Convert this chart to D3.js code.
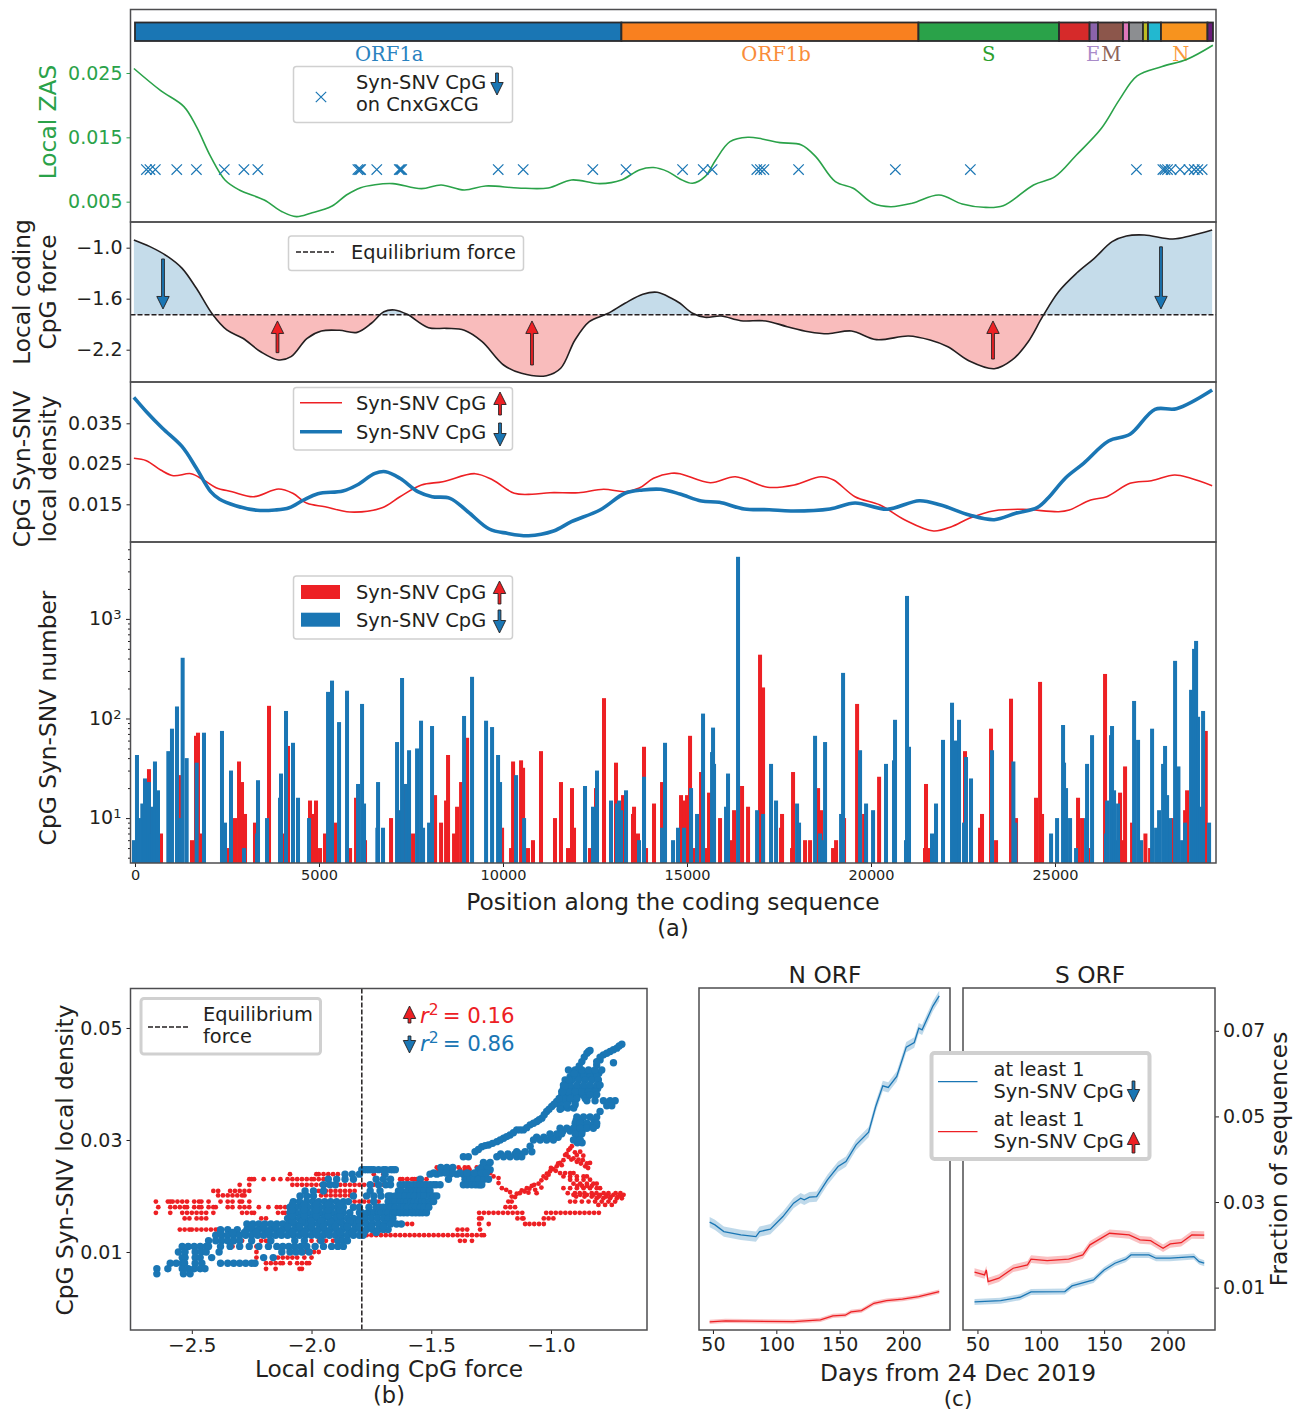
<!DOCTYPE html>
<html lang="en">
<head>
<meta charset="UTF-8">
<title>CpG Syn-SNV along the coding sequence</title>
<script src="https://d3js.org/d3.v7.min.js"></script>
<style>
    body { margin: 0; background: #fff; }
    svg text { font-family: "DejaVu Sans", sans-serif; fill: #231f20; }
    .domain { display: none; }
</style>
</head>
<body>
<svg id="chart" width="1301" height="1411"></svg>
<script>
// genome bar
const geneEdges = [0, 13218, 21290, 25110, 25940, 26168, 26848, 27011, 27391, 27527, 27880, 29144, 29293];
const geneColors = ["#1a76b4", "#f9801f", "#2aa249", "#d62a2a", "#8a63ab", "#8c564b", "#e077bb", "#8c8e91", "#bcbd22", "#22b8d0", "#f7931e", "#6a1b7a"];
const geneNames = ["ORF1a", "ORF1b", "S", "E", "M", "N"];
const genePos = [6910, 17420, 23200, 26040, 26530, 28420];
const geneNameColors = ["#2a82bf", "#f98c3a", "#2ca02c", "#a98bc9", "#8c6257", "#fa9a3c"];

// local ZAS
const zasPos = [-30, 699, 1329, 1669, 2057, 2445, 2834, 3513, 3998, 4386, 4775, 5357, 5745, 6133, 6522, 7007, 7783, 8317, 8948, 9530, 10404, 11228, 11859, 12635, 13218, 13703, 14091, 14480, 14810, 15150, 15489, 15780, 16169, 16654, 17042, 17527, 18110, 18498, 19032, 19517, 20051, 20536, 21118, 21846, 22477, 23059, 23593, 24418, 25000, 25583, 26262, 26747, 27232, 27912, 28591, 29290];
const zasVal = [.0257, .02226, .01978, .01666, .0120, .00837, .00682, .00526, .00344, .00267, .0032, .00433, .00604, .00718, .00764, .0078, .00702, .0076, .00682, .00744, .00713, .00713, .00837, .0078, .00837, .00993, .0103, .00967, .00853, .00786, .00889, .01149, .01433, .01501, .01475, .01418, .01382, .0120, .00811, .00708, .00475, .00422, .00475, .00604, .00464, .00413, .00438, .0076, .00889, .01226, .01641, .02082, .02455, .0260, .02715, .02932];
const crossPos = [310, 407, 553, 1135, 1669, 2426, 2960, 3338, 6056, 6100, 6133, 6570, 7181, 7215, 7249, 9870, 10549, 12441, 13344, 14880, 15441, 15683, 16897, 16994, 17090, 18032, 20662, 22700, 27213, 27931, 27989, 28057, 28154, 28397, 28640, 28785, 28882, 28999];
const crossLevel = 0.01;

// local coding CpG force
const forcePos = [-30, 407, 893, 1281, 1669, 2106, 2494, 2931, 3416, 3901, 4241, 4678, 5066, 5551, 6036, 6424, 6764, 7055, 7395, 7977, 8463, 8948, 9433, 10015, 10501, 11180, 11568, 11956, 12345, 12830, 13315, 13800, 14189, 14577, 14810, 15150, 15489, 15926, 16460, 17139, 17722, 18304, 18838, 19468, 20148, 21021, 21604, 22089, 22671, 23350, 23836, 24272, 24661, 25097, 25583, 26068, 26553, 26941, 27426, 28203, 28688, 29270];
const forceVal = [-.909, -.988, -1.105, -1.243, -1.478, -1.784, -1.968, -2.066, -2.224, -2.321, -2.282, -2.066, -1.98, -1.972, -1.996, -1.889, -1.753, -1.733, -1.784, -1.941, -1.949, -1.972, -2.106, -2.38, -2.478, -2.506, -2.419, -2.086, -1.87, -1.778, -1.654, -1.548, -1.525, -1.595, -1.654, -1.772, -1.819, -1.804, -1.859, -1.862, -1.929, -1.988, -2.012, -1.98, -2.082, -2.039, -2.086, -2.165, -2.333, -2.424, -2.321, -2.106, -1.812, -1.518, -1.301, -1.125, -.929, -.862, -.851, -.898, -.859, -.792];
const equilibrium = -1.79;
const forceArrowPos = [761, 3872, 10788, 23315, 27880];
const forceArrowFrom = [-1.133, -2.235, -2.38, -2.31, -0.99];
const forceArrowTo = [-1.721, -1.862, -1.862, -1.862, -1.72];

// local density
const densBluePos = [-30, 310, 747, 1281, 1669, 2057, 2300, 2737, 3319, 3804, 4192, 4581, 4969, 5648, 6036, 6521, 6813, 7201, 7686, 8074, 8560, 9045, 9627, 10112, 10694, 11374, 11859, 12635, 13315, 13800, 14286, 14810, 15392, 15878, 16557, 17236, 17819, 18886, 19565, 20438, 21312, 21894, 22671, 23350, 23933, 24515, 24806, 25292, 25777, 26456, 27038, 27717, 28300, 29270];
const densBlueVal = [.0414, .03786, .03377, .02922, .02389, .01811, .01623, .01465, .01352, .0136, .01416, .01606, .01762, .01828, .01977, .02265, .02305, .02142, .01811, .01688, .01648, .01317, .0089, .00784, .00725, .00841, .0107, .0136, .01772, .01853, .0187, .01754, .01581, .0155, .01384, .01367, .01335, .01384, .01532, .01377, .01589, .01483, .01236, .0112, .01278, .01416, .01648, .02157, .02512, .03063, .03228, .03846, .03861, .04322];
const densRedPos = [-30, 310, 698, 1038, 1523, 1863, 2203, 2640, 3222, 3901, 4289, 4678, 5163, 5842, 6716, 7201, 7783, 8366, 9239, 9724, 10307, 10792, 11277, 12053, 12733, 13315, 13703, 14091, 14577, 14810, 15635, 16314, 17188, 17916, 18644, 18984, 19565, 20245, 20924, 21700, 22186, 22671, 23350, 24127, 25097, 25388, 25970, 26407, 27038, 27620, 28251, 28688, 29270];
const densRedVal = [.02636, .02577, .02347, .02206, .02256, .0210, .0191, .01811, .01688, .01878, .01772, .01525, .01441, .0131, .01416, .01688, .01977, .02058, .02256, .0210, .01772, .01747, .01786, .01786, .0187, .01811, .0190, .02142, .02265, .02256, .02033, .02181, .0192, .01977, .02181, .0210, .01688, .01483, .01112, .00841, .00947, .01154, .01342, .01377, .01317, .01359, .01606, .01688, .02018, .02083, .02223, .02142, .0196];

// bars
const redBarPos = [380, 707, 1196, 1549, 1658, 1712, 1767, 2528, 2718, 2827, 2908, 2990, 3261, 3642, 4022, 4158, 4756, 4811, 4919, 5028, 5164, 5436, 5844, 6007, 6251, 6958, 7338, 7556, 8154, 8317, 8453, 8507, 8670, 8752, 8861, 9024, 9975, 10219, 10274, 10491, 10546, 10679, 10815, 11033, 11413, 11576, 11767, 11875, 11930, 12365, 12528, 12745, 13071, 13262, 13533, 13561, 13669, 13832, 13887, 14104, 14322, 14838, 14920, 15001, 15083, 15191, 15382, 15517, 15599, 15898, 16197, 16279, 16496, 16659, 16985, 17067, 17556, 17583, 17855, 17882, 18208, 18344, 18562, 18643, 18969, 19051, 19268, 19622, 19812, 20220, 21468, 21495, 21577, 22555, 22963, 23017, 23262, 23398, 23805, 23941, 24485, 24594, 24648, 25626, 25735, 25898, 26360, 26768, 26850, 26904, 27094, 27457, 27584, 28209, 28535, 28589, 29097];
const redBarVal = [31, 7, 27, 6, 67, 72, 7, 5, 10, 37, 23, 11, 9, 134, 7, 53, 15, 11, 15, 5, 7, 9, 5, 16, 6, 10, 22, 7, 17, 9, 15, 43, 7, 13, 23, 64, 8, 5, 37, 38, 32, 5, 6, 47, 10, 23, 5, 20, 8, 5, 20, 160, 36, 17, 11, 13, 7, 52, 5, 14, 23, 17, 15, 17, 67, 5, 29, 5, 18, 10, 6, 12, 21, 13, 437, 205, 8, 11, 5, 29, 6, 6, 20, 12, 5, 6, 10, 140, 11, 26, 5, 22, 5, 47, 8, 11, 79, 6, 158, 10, 16, 233, 11, 16, 10, 5, 280, 18, 6, 33, 9, 7, 5, 10, 12, 19, 75];
const blueBarPos = [-27, 54, 108, 199, 272, 380, 435, 489, 543, 625, 906, 1005, 1141, 1250, 1295, 1404, 1676, 1875, 2364, 2446, 2609, 2962, 3316, 3343, 3588, 3941, 3968, 4104, 4294, 4430, 4729, 5246, 5354, 5545, 5762, 6061, 6170, 6224, 6586, 6605, 6740, 7121, 7175, 7257, 7366, 7447, 7665, 7773, 7828, 7991, 8072, 8942, 9159, 9540, 9703, 9866, 9920, 10355, 10573, 12229, 12446, 12555, 12935, 13098, 13153, 13207, 13343, 13696, 13832, 14322, 14403, 14621, 14756, 14920, 15110, 15273, 15436, 15681, 15708, 15735, 16061, 16115, 16387, 16904, 17067, 17284, 17420, 17991, 18045, 18480, 18616, 18670, 18752, 19187, 19241, 19703, 19866, 20056, 20408, 20625, 20653, 20951, 20979, 21033, 21658, 21767, 21957, 22202, 22310, 22392, 22528, 22582, 22718, 23289, 23869, 23923, 24893, 25056, 25219, 25246, 25300, 25409, 25572, 25844, 25871, 26007, 26387, 26415, 26523, 26550, 26605, 26659, 26714, 27149, 27257, 27339, 27638, 27747, 27828, 27937, 27991, 28046, 28127, 28263, 28354, 28453, 28535, 28698, 28779, 28834, 28888, 28942, 29024, 29187];
const blueBarVal = [6, 43, 10, 14, 25, 23, 7, 13, 37, 19, 47, 79, 132, 10, 407, 40, 36, 72, 75, 9, 30, 5, 7, 24, 10, 16, 28, 119, 57, 16, 10, 185, 240, 92, 190, 22, 140, 14, 8, 23, 8, 58, 12, 255, 22, 48, 50, 95, 8, 9, 84, 106, 262, 95, 82, 43, 23, 27, 10, 21, 13, 30, 15, 14, 15, 12, 19, 6, 26, 8, 57, 6, 8, 8, 20, 11, 112, 46, 81, 35, 13, 28, 4200, 12, 11, 35, 15, 14, 9, 67, 7, 6, 58, 11, 287, 48, 14, 12, 35, 38, 97, 6, 1700, 52, 7, 14, 61, 144, 60, 97, 9, 41, 25, 48, 37, 9, 7, 10, 86, 36, 20, 10, 5, 10, 35, 68, 7, 15, 68, 84, 19, 6, 14, 150, 61, 6, 79, 8, 12, 35, 53, 17, 10, 379, 33, 6, 9, 194, 500, 601, 104, 13, 119, 9];

// panel (b): density levels are quantised, so points are kept per level
const redLevels = [.0239, .023, .022, .0209, .0201, .019, .018, .017, .016, .015, .014, .013, .012, .011, .010, .009, .008, .007, .0196, .0184, .0202, .0214, .0222, .0229, .0235, .0241, .0247, .0251, .0218, .0205, .0199];
const redForces = [
    [-2.09, -1.98, -1.97, -1.95, -1.93, -1.91, -1.89, -1.74, -1.7],
    [-2.26, -2.25, -2.24, -2.2, -2.16, -2.13, -2.1, -2.08, -2.06, -2.04, -2.02, -2, -1.99, -1.97, -1.95, -1.62, -1.6, -1.58, -1.56, -1.54, -1.52, -1.63, -1.6, -1.57],
    [-2.3, -2.26, -2.08, -2.06, -2.04, -2.02, -2, -1.98, -1.96, -1.94, -1.88, -1.86, -1.84, -1.82, -1.8, -1.78, -1.76, -1.74, -1.72, -1.7, -1.68],
    [-2.41, -2.39, -2.34, -2.32, -2.3, -2.28, -2.26, -1.99, -1.97, -1.94, -1.92, -1.9, -1.88, -1.86, -1.84, -1.82],
    [-2.39, -2.37, -2.35, -2.33, -2.31, -2.29, -2.28, -1.96, -1.94, -1.92, -1.9, -1.88, -1.86, -1.84, -1.83],
    [-2.65, -2.6, -2.59, -2.58, -2.56, -2.54, -2.52, -2.49, -2.47, -2.46, -2.43, -2.38, -2.35, -2.33, -2.3, -2.29, -2.26, -1.84, -1.82, -1.8, -1.78, -1.76, -1.74, -1.72, -1.178, -1.164, -.92, -.899, -.871, -.843, -.816, -.788, -.76, -.732],
    [-2.64, -2.59, -2.57, -2.55, -2.53, -2.52, -2.49, -2.47, -2.46, -2.43, -2.41, -2.4, -2.35, -2.33, -2.3, -2.28, -2.26, -2.22, -2.18, -2.145, -2.13, -2.11, -2.09, -1.19, -1.17, -1.15],
    [-2.65, -2.59, -2.54, -2.52, -2.5, -2.48, -2.46, -2.44, -2.41, -2.29, -2.27, -2.25, -2.24, -2.14, -2.12, -2.11, -1.3, -1.28, -1.26, -1.24, -1.22, -1.2, -1.18, -1.16, -1.14, -1.12, -1.02, -1, -.98, -.96, -.94, -.92, -.9, -.88, -.86, -.84, -.82, -.8],
    [-2.53, -2.51, -2.48, -2.46, -2.44, -2.21, -2.19, -1.3, -1.29, -1.14, -1.12, -1.115, -1.03, -1.01, -.99],
    [-1.62, -1.6, -1.58, -1.3, -1.26, -1.108, -1.09, -1.07, -1.05, -1.03],
    [-2.55, -2.53, -2.51, -2.5, -2.48, -2.46, -2.44, -2.42, -2.4, -2.39, -1.39, -1.37, -1.35, -1.296],
    [-1.77, -1.75, -1.73, -1.71, -1.69, -1.67, -1.65, -1.63, -1.61, -1.59, -1.57, -1.55, -1.53, -1.51, -1.49, -1.47, -1.45, -1.43, -1.41, -1.39, -1.37, -1.35, -1.33, -1.31, -1.29, -1.28],
    [-2.29, -2.21, -2.19, -2.18, -2.07, -2.03, -2, -1.97, -1.94, -1.91, -1.38, -1.36, -1.33],
    [-2.33, -2.23],
    [-2.23, -2.05, -2.03, -2.01, -1.99, -1.97],
    [-2.23, -2.16, -2.14, -2.12, -2.1, -2.08, -2.06, -2.03, -2],
    [-2.19, -2.17, -2.15, -2.13, -2.12, -2.09, -2.06, -2.04, -2.02, -2.01],
    [-2.19, -2.15, -2.05, -2.04],
    [-.809, -.781, -.753, -.725, -.704],
    [-.802, -.774, -.746],
    [-.906, -.878, -.85, -.823, -.795, -.767, -.739, -.711, -.697],
    [-.892, -.864, -.837, -.809, -.948, -.92, -.795],
    [-.906, -.878, -.85, -.823, -.809],
    [-.92, -.892, -.864, -.837],
    [-.948, -.92, -.892, -.864, -.85],
    [-.962, -.941, -.92, -.906, -1.275, -1.254],
    [-1.47, -1.44, -1.41, -1.38, -1.36, -1.34],
    [-1.477, -1.386, -1.36, -1.345, -1.31],
    [-.89, -.87, -.85, -.83],
    [-.93, -.9, -.88, -.86, -.83, -.81, -.78, -.76, -.73, -.71],
    [-.895, -.86, -.83, -.8, -.77, -.75, -.72]
];
const redTailForce = [-1.254, -1.24, -1.219, -1.219, -1.205, -1.187, -1.171, -1.164, -1.143, -1.122, -1.101, -1.08, -1.066, -1.052, -1.094, -1.031, -1.017, -1.004, -.99, -.976, -.962, -.948, -.941, -.927, -.913, -.927, -.906, -.892, -.878, -.867, -.892, -.857, -.837, -1.15, -1.13, -1.11, -1.09, -1.07, -1.06, -1.04, -1.04, -1.02, -1.01, -1, -.98, -.97, -.955, -.935, -.92, -.915, -.9, -.885, -.875, -.865, -.845, -.85];
const redTailDens = [.0243, .0235, .0232, .0223, .0214, .0211, .0207, .0199, .0204, .021, .0214, .0218, .0211, .0222, .0206, .0235, .024, .0244, .0248, .0253, .0259, .0264, .0273, .0282, .0289, .027, .0267, .0273, .0279, .0264, .0261, .0253, .0259, .0198, .0205, .0208, .0213, .022, .0205, .0215, .0228, .0232, .0238, .025, .0245, .0258, .0255, .0275, .0285, .0265, .0278, .0265, .0258, .0272, .025, .0258];

const blueLevels = [.0247, .0239, .023, .022, .0209, .02, .019, .018, .017, .016, .015, .014, .013, .012, .011, .010, .009, .008, .007, .0061, .0155, .0145, .0135, .0165, .0175, .0185, .0251, .0241, .0419, .0392, .038, .0368, .0357, .0335, .0326, .0316, .0305, .0295, .0275];
const blueForces = [
    [-1.79, -1.78, -1.77, -1.76, -1.75, -1.74, -1.72, -1.7, -1.69, -1.67, -1.66, -1.65, -1.449, -1.42, -1.303, -1.275, -1.254],
    [-1.86, -1.83, -1.8, -1.693, -1.505, -1.477, -1.421, -1.393, -1.366, -1.338, -1.303, -1.282],
    [-1.93, -1.895, -1.86, -1.825, -1.73, -1.7, -1.67, -1.546, -1.428, -1.359, -1.35, -1.338, -1.32, -1.303, -1.28, -1.261],
    [-1.95, -1.923, -1.9, -1.755, -1.72, -1.69, -1.67, -1.63, -1.615, -1.602, -1.59, -1.574, -1.56, -1.546, -1.53, -1.519, -1.505, -1.491, -1.48, -1.463, -1.366, -1.35, -1.331, -1.315, -1.303, -1.295, -1.289],
    [-2.027, -1.992, -1.95, -1.755, -1.714, -1.637, -1.625, -1.6, -1.58, -1.57, -1.56, -1.546, -1.53, -1.51, -1.505],
    [-2.048, -2.02, -1.992, -1.825, -1.77, -1.74, -1.71, -1.68, -1.67, -1.65, -1.63, -1.61, -1.588, -1.57, -1.546, -1.53, -1.505, -1.49, -1.477],
    [-2.076, -2.05, -2.02, -1.995, -1.97, -1.945, -1.92, -1.895, -1.867, -1.846, -1.74, -1.68, -1.66, -1.65, -1.63, -1.615, -1.6, -1.585, -1.57, -1.555, -1.54, -1.525, -1.51, -1.505, -1.49],
    [-2.09, -2.065, -2.04, -2.015, -1.99, -1.965, -1.94, -1.915, -1.89, -1.867, -1.825, -1.8, -1.76, -1.73, -1.715, -1.7, -1.685, -1.67, -1.65, -1.63, -1.615, -1.6, -1.58, -1.565, -1.545, -1.53, -1.51],
    [-2.09, -2.065, -2.04, -2.015, -1.99, -1.965, -1.94, -1.915, -1.89, -1.867, -1.84, -1.8, -1.79, -1.765, -1.75, -1.74, -1.72, -1.71, -1.69, -1.68, -1.66, -1.65, -1.63, -1.615, -1.6, -1.58, -1.565, -1.55, -1.537, -1.52],
    [-2.1, -2.075, -2.05, -2.025, -2, -1.975, -1.95, -1.925, -1.9, -1.875, -1.85, -1.825, -1.8, -1.775, -1.75, -1.725, -1.7, -1.68, -1.66],
    [-2.27, -2.245, -2.22, -2.195, -2.17, -2.145, -2.12, -2.095, -2.07, -2.045, -2.02, -1.995, -1.97, -1.945, -1.92, -1.895, -1.87, -1.845, -1.82, -1.795, -1.77, -1.745, -1.72, -1.695, -1.67, -1.645, -1.625],
    [-2.38, -2.35, -2.31, -2.27, -2.245, -2.22, -2.195, -2.17, -2.145, -2.12, -2.095, -2.07, -2.045, -2.02, -1.995, -1.97, -1.945, -1.92, -1.895, -1.87, -1.845, -1.82, -1.795, -1.77, -1.745, -1.72, -1.7, -1.68],
    [-2.4, -2.375, -2.35, -2.325, -2.3, -2.275, -2.25, -2.225, -2.2, -2.175, -2.15, -2.125, -2.1, -2.075, -2.05, -2.025, -2, -1.975, -1.95, -1.925, -1.9, -1.875, -1.85, -1.825, -1.8, -1.785],
    [-2.43, -2.4, -2.375, -2.35, -2.325, -2.3, -2.25, -2.17, -2.07, -2.03, -1.96, -1.89, -1.87, -1.85],
    [-2.54, -2.515, -2.49, -2.465, -2.44, -2.43, -2.38, -2.34, -2.3, -2.26, -2.22, -2.18, -2.145, -2.12, -2.095, -2.07, -2.045, -2.02, -1.985, -1.95, -1.916, -1.89, -1.867],
    [-2.556, -2.528, -2.486, -2.46, -2.44, -2.386, -2.124, -2.09, -2.065, -2.04, -2.01],
    [-2.54, -2.528, -2.486, -2.465, -2.417, -2.2, -2.16],
    [-2.59, -2.565, -2.54, -2.53, -2.486, -2.458, -2.38, -2.35, -2.325, -2.3, -2.275, -2.25, -2.236],
    [-2.646, -2.6, -2.54, -2.515, -2.49, -2.465, -2.445],
    [-2.646, -2.535, -2.507],
    [-2.08, -2.04, -2, -1.96, -1.92, -1.88, -1.84, -1.8],
    [-2.25, -2.2, -2.15, -2.1, -2.05, -2, -1.95, -1.9, -1.85, -1.8, -1.75, -1.7],
    [-2.38, -2.33, -2.28, -2.23, -2.18, -2.13, -2.08, -2.03, -1.98, -1.93, -1.88, -1.83, -1.78, -1.73],
    [-2.08, -2.03, -1.98, -1.93, -1.88],
    [-2.08, -2.03, -1.98, -1.93, -1.88],
    [-2.08, -2.03, -1.98, -1.93, -1.88],
    [-1.46, -1.435, -1.41, -1.29, -1.265],
    [-1.49, -1.46, -1.44, -1.41, -1.38, -1.35, -1.32, -1.29, -1.27],
    [-.9, -.875, -.85, -.825, -.8],
    [-.93, -.905, -.88, -.855, -.83, -.805],
    [-.94, -.915, -.89, -.865, -.84, -.815],
    [-.96, -.93, -.9],
    [-.955, -.93, -.905],
    [-.895, -.875, -.82],
    [-.89, -.87, -.83, -.81],
    [-.95, -.92, -.89, -.87],
    [-1.06, -1.03, -1, -.97, -.89],
    [-.89, -.87],
    [-1.21, -1.18, -1.15, -1.13]
];
const blueTailForce = [-1.317, -1.289, -1.261, -1.226, -1.198, -1.171, -1.143, -1.115, -1.087, -1.059, -1.038, -1.018, -.997, -.976, -.955, -.948, -.934, -.913, -.892, -.871, -.85, -.837, -.781, -.753, -.725, -.704, -.739, -.809, -.795, -.927, -.899, -.871, -.843, -.816, -.788, -.92, -.892, -.864, -.837, -.809, -.941, -.913, -.885, -.857, -.83, -.802, -.948, -.92, -.892, -.864, -.837, -.809, -.795, -.955, -.927, -.899, -.871, -.843, -.816, -.948, -.92, -.892, -.857, -.962, -.934, -.899, -.962, -.85, -.816, -.781, -.753, -.732, -.837, -.809, -.767, -.746, -.795, -.892, -.864, -.837, -.809, -.899, -.878, -.809, -.85, -.962, -.934, -.906, -.878, -.85, -.823, -1.004, -.976, -.955, -.899, -.871, -1.073, -1.045, -1.018, -.99, -.906, -.878, -1.087, -1.143, -1.108, -1.08, -1.226, -1.198, -1.171, -1.143, -1.122, -1.366, -1.345, -1.282, -1.254, -1.303, -1.275, -1.244, -1.212, -1.185, -1.157, -1.129, -1.101, -1.073, -1.049, -1.028, -1.008, -.987, -.966, -.952, -.941, -.924, -.903, -.882, -.861, -.843, -.767, -.739, -.715, -.795, -.809];
const blueTailDens = [.0279, .0288, .0291, .0297, .0303, .0309, .0318, .0318, .0327, .0333, .0339, .0351, .036, .0369, .038, .0392, .0401, .0413, .0425, .044, .0455, .046, .0452, .0458, .0464, .0471, .0438, .0434, .0443, .0425, .0425, .0425, .0425, .0425, .0425, .0413, .0413, .0413, .0413, .0413, .0407, .0407, .0407, .0407, .0407, .0407, .0398, .0398, .0398, .0398, .0398, .0398, .0398, .0386, .0386, .0386, .0386, .0386, .0386, .0374, .0374, .0374, .0374, .0363, .0363, .0363, .0355, .037, .037, .037, .037, .037, .0381, .0381, .0361, .0361, .0351, .0341, .0341, .0341, .0341, .033, .033, .033, .033, .0321, .0321, .0321, .0321, .0321, .0321, .0311, .0311, .0311, .0311, .0311, .03, .03, .03, .03, .03, .03, .0289, .0279, .0279, .0279, .027, .027, .027, .027, .027, .027, .027, .026, .026, .0283, .029, .0294, .03, .0306, .0313, .0318, .0322, .033, .0336, .0345, .0355, .0364, .0374, .0386, .0396, .0407, .0419, .0432, .0448, .0458, .0455, .0461, .0468, .0448, .044];

// panel (c)
const nBlueDay = [47.4, 51.6, 58.6, 72, 83.9, 86.8, 95.3, 105.2, 113.6, 119.2, 122, 126.2, 131.8, 140.3, 148.7, 154.9, 162.9, 172.8, 178.4, 184, 188.3, 195, 202.5, 208.8, 212.4, 215, 223.5, 228.5];
const nBlueVal = [.02529, .02466, .0231, .02232, .02192, .0231, .02365, .0266, .02973, .0309, .0305, .03113, .03127, .03518, .03828, .03946, .04336, .04632, .05231, .05715, .05676, .05934, .0662, .06727, .07064, .07024, .07578, .07818];
const nRedDay = [47.4, 60, 113.6, 134.8, 144.6, 154.4, 158.9, 167.2, 177, 186.9, 199.5, 212.3, 228.5];
const nRedVal = [.00198, .00222, .00205, .00245, .00338, .00355, .00432, .00462, .00635, .00696, .00729, .0079, .00906];
const sRedDay = [47.7, 55.6, 57, 58.4, 66.9, 78.2, 89.5, 92.3, 105, 122, 133.2, 138.8, 154.3, 169.7, 178.3, 186.7, 189.6, 196.5, 202.2, 210.8, 219.2, 229];
const sRedVal = [.0136, .01297, .01413, .0114, .0122, .01453, .0153, .01664, .0163, .01664, .01764, .02, .0227, .02232, .02115, .02099, .02043, .0192, .0202, .0205, .0223, .02225];
const sBlueDay = [47.7, 68.3, 83.5, 92.3, 119, 124.6, 141.6, 150, 158.5, 167, 171.2, 185.3, 191, 202, 220.8, 225, 229];
const sBlueVal = [.00666, .00696, .00775, .009, .00907, .0104, .0118, .01414, .0157, .01664, .01764, .01764, .01687, .01687, .01725, .01608, .0157];
const nBlueBand = 0.0012, nRedBand = 0.0005, sRedBand = 0.0009, sBlueBand = 0.0007;

const zasTicks = [0.025, 0.015, 0.005];
const forceTicks = [-1.0, -1.6, -2.2];
const densTicks = [0.035, 0.025, 0.015];
const countTicks = [10, 100, 1000];
const countMinor = [4, 5, 6, 7, 8, 9, 20, 30, 40, 50, 60, 70, 80, 90, 200, 300, 400, 500, 600, 700, 800, 900, 2000, 3000, 4000, 5000];
const posTicks = [0, 5000, 10000, 15000, 20000, 25000];
const bForceTicks = [-2.5, -2.0, -1.5, -1.0];
const bDensTicks = [0.05, 0.03, 0.01];
const dayTicks = [50, 100, 150, 200];
const fracTicks = [0.07, 0.05, 0.03, 0.01];

const RED = "#ed2024", BLUE = "#1a76b4", GREEN = "#2aa249", INK = "#231f20", FRAME = "#4d4d4f", LEGEND = "#d0d0d0";

const svg = d3.select("#chart");
const defs = svg.append("defs");

// Panels share the x range, each one has its own y scale
const L = 130.5, R = 1216;
const x = d3.scaleLinear().domain([-122, 29375]).range([L, R]);
const yZas = d3.scaleLinear().domain([0.00184, 0.03487]).range([222, 9.5]);
const yForce = d3.scaleLinear().domain([-2.58, -0.698]).range([382, 222]);
const yDens = d3.scaleLinear().domain([0.00569, 0.0452]).range([542, 382]);
const yCount = d3.scaleLog().domain([3.54, 5916]).range([863, 542]);

function frame(x0, y0, x1, y1) {
    svg.append("rect").attr("x", x0).attr("y", y0).attr("width", x1 - x0).attr("height", y1 - y0)
        .attr("fill", "none").attr("stroke", FRAME).attr("stroke-width", 1.5);
}

function clip(id, x0, y0, x1, y1) {
    defs.append("clipPath").attr("id", id).append("rect")
        .attr("x", x0).attr("y", y0).attr("width", x1 - x0).attr("height", y1 - y0);
}

function styleAxis(g, size, color) {
    g.selectAll("text").style("font-size", size + "px").style("fill", color || INK);
    g.selectAll("line").attr("stroke", color || INK).attr("stroke-width", 1);
}

function label(text, px, py, size, opts) {
    opts = opts || {};
    const t = svg.append("text").attr("text-anchor", opts.anchor || "middle").style("font-size", size + "px").text(text);
    if (opts.color) t.style("fill", opts.color);
    if (opts.family) t.style("font-family", opts.family);
    if (opts.rotate) t.attr("transform", `translate(${px},${py}) rotate(-90)`);
    else t.attr("x", px).attr("y", py);
    return t;
}

// FancyArrow style glyph, from tail to head in pixels
function arrow(px, y0, y1, color) {
    const dir = y1 > y0 ? 1 : -1, head = 12.5, half = 6.2, shaft = 1.4;
    const pts = [[px - shaft, y0], [px + shaft, y0], [px + shaft, y1 - dir * head], [px + half, y1 - dir * head],
        [px, y1], [px - half, y1 - dir * head], [px - shaft, y1 - dir * head]];
    svg.append("polygon").attr("points", pts.map(p => p.join(",")).join(" "))
        .attr("fill", color).attr("stroke", INK).attr("stroke-width", 0.9).attr("stroke-linejoin", "miter");
}

function legendBox(x0, y0, x1, y1, width) {
    svg.append("rect").attr("x", x0).attr("y", y0).attr("width", x1 - x0).attr("height", y1 - y0)
        .attr("rx", 3).attr("fill", "#fff").attr("stroke", LEGEND).attr("stroke-width", width);
}

const smooth = d3.curveCatmullRom.alpha(0.5);
const LEGEND_FONT = 19.4, TICK_FONT = 19, AXIS_FONT = 23.3, SUB_FONT = 22.5, DASH = "5,2";
const CROSS = "M-5.2,-5.2L5.2,5.2M-5.2,5.2L5.2,-5.2";

// Panel 1: genome bar, ZAS
geneColors.forEach((c, i) => {
    svg.append("rect").attr("x", x(geneEdges[i])).attr("y", 22.5)
        .attr("width", x(geneEdges[i + 1]) - x(geneEdges[i])).attr("height", 18.5)
        .attr("fill", c).attr("stroke", "#2b2b2d").attr("stroke-width", 1.8);
});
geneNames.forEach((name, i) => {
    label(name, x(genePos[i]), 61, 19.6, { color: geneNameColors[i], family: "'DejaVu Serif', serif" });
});

svg.append("path").datum(zasPos.map((p, i) => [p, zasVal[i]]))
    .attr("fill", "none").attr("stroke", GREEN).attr("stroke-width", 1.6)
    .attr("d", d3.line().x(d => x(d[0])).y(d => yZas(d[1])).curve(smooth));

svg.append("g").selectAll("path").data(crossPos).join("path")
    .attr("transform", d => `translate(${x(d)},${yZas(crossLevel)})`)
    .attr("d", CROSS)
    .attr("fill", "none").attr("stroke", BLUE).attr("stroke-width", 1.2);

svg.append("g").attr("transform", `translate(${L},0)`)
    .call(d3.axisLeft(yZas).tickValues(zasTicks).tickFormat(d3.format(".3f")).tickSize(4).tickPadding(4))
    .call(styleAxis, TICK_FONT, GREEN);
label("Local ZAS", 56, 122, AXIS_FONT, { rotate: true, color: GREEN });
frame(L, 9.5, R, 222);

legendBox(293.5, 66.5, 512.5, 122.5, 1.5);
svg.append("path").attr("transform", "translate(321,97)").attr("d", CROSS)
    .attr("fill", "none").attr("stroke", BLUE).attr("stroke-width", 1.2);
label("Syn-SNV CpG", 356, 89, LEGEND_FONT, { anchor: "start" });
label("on CnxGxCG", 356, 111, LEGEND_FONT, { anchor: "start" });
arrow(497, 73, 95, BLUE);

// Panel 2: force
clip("clipAbove", L, 222, R, yForce(equilibrium));
clip("clipBelow", L, yForce(equilibrium), R, 382);
const forceData = forcePos.map((p, i) => [p, forceVal[i]]);
const forceArea = d3.area().x(d => x(d[0])).y0(yForce(equilibrium)).y1(d => yForce(d[1])).curve(smooth);
svg.append("path").datum(forceData).attr("d", forceArea).attr("fill", "#c5dcea").attr("clip-path", "url(#clipAbove)");
svg.append("path").datum(forceData).attr("d", forceArea).attr("fill", "#f9bcbc").attr("clip-path", "url(#clipBelow)");
svg.append("path").datum(forceData).attr("fill", "none").attr("stroke", INK).attr("stroke-width", 1.6)
    .attr("d", d3.line().x(d => x(d[0])).y(d => yForce(d[1])).curve(smooth));
svg.append("line").attr("x1", L).attr("x2", R).attr("y1", yForce(equilibrium)).attr("y2", yForce(equilibrium))
    .attr("stroke", INK).attr("stroke-width", 1.5).attr("stroke-dasharray", DASH);
forceArrowPos.forEach((p, i) => {
    arrow(x(p), yForce(forceArrowFrom[i]), yForce(forceArrowTo[i]), forceArrowTo[i] < forceArrowFrom[i] ? BLUE : RED);
});
svg.append("g").attr("transform", `translate(${L},0)`)
    .call(d3.axisLeft(yForce).tickValues(forceTicks).tickFormat(d3.format(".1f")).tickSize(4).tickPadding(4))
    .call(styleAxis, TICK_FONT);
label("Local coding", 30, 292, AXIS_FONT, { rotate: true });
label("CpG force", 56, 292, AXIS_FONT, { rotate: true });
frame(L, 222, R, 382);

legendBox(288.5, 236, 523.5, 270.5, 1.5);
svg.append("line").attr("x1", 296).attr("x2", 334).attr("y1", 252).attr("y2", 252)
    .attr("stroke", INK).attr("stroke-width", 1.5).attr("stroke-dasharray", DASH);
label("Equilibrium force", 351, 259, LEGEND_FONT, { anchor: "start" });

// Panel 3: density
const densLine = d3.line().x(d => x(d[0])).y(d => yDens(d[1])).curve(smooth);
svg.append("path").datum(densRedPos.map((p, i) => [p, densRedVal[i]]))
    .attr("fill", "none").attr("stroke", RED).attr("stroke-width", 1.6).attr("d", densLine);
svg.append("path").datum(densBluePos.map((p, i) => [p, densBlueVal[i]]))
    .attr("fill", "none").attr("stroke", BLUE).attr("stroke-width", 3.6).attr("d", densLine);
svg.append("g").attr("transform", `translate(${L},0)`)
    .call(d3.axisLeft(yDens).tickValues(densTicks).tickFormat(d3.format(".3f")).tickSize(4).tickPadding(4))
    .call(styleAxis, TICK_FONT);
label("CpG Syn-SNV", 30, 469, AXIS_FONT, { rotate: true });
label("local density", 56, 469, AXIS_FONT, { rotate: true });
frame(L, 382, R, 542);

legendBox(293.5, 387.5, 512.5, 450, 1.5);
svg.append("line").attr("x1", 300).attr("x2", 342).attr("y1", 402.7).attr("y2", 402.7).attr("stroke", RED).attr("stroke-width", 1.6);
svg.append("line").attr("x1", 300).attr("x2", 342).attr("y1", 431.7).attr("y2", 431.7).attr("stroke", BLUE).attr("stroke-width", 3.6);
label("Syn-SNV CpG", 356, 410, LEGEND_FONT, { anchor: "start" });
label("Syn-SNV CpG", 356, 439, LEGEND_FONT, { anchor: "start" });
arrow(500, 415, 392, RED);
arrow(500, 423, 446, BLUE);

// Panel 4: counts
clip("clipCount", L, 542, R, 863);
const barWidth = x(109) - x(0);
const barsG = svg.append("g").attr("clip-path", "url(#clipCount)");
barsG.selectAll("rect.red").data(redBarPos).join("rect").attr("class", "red")
    .attr("x", d => x(d) - barWidth / 2).attr("width", barWidth)
    .attr("y", (d, i) => yCount(redBarVal[i])).attr("height", (d, i) => 863 - yCount(redBarVal[i]))
    .attr("fill", RED);
barsG.selectAll("rect.blue").data(blueBarPos).join("rect").attr("class", "blue")
    .attr("x", d => x(d) - barWidth / 2).attr("width", barWidth)
    .attr("y", (d, i) => yCount(blueBarVal[i])).attr("height", (d, i) => 863 - yCount(blueBarVal[i]))
    .attr("fill", BLUE);

svg.append("g").attr("transform", `translate(${L},0)`)
    .call(d3.axisLeft(yCount).tickValues(countMinor).tickFormat("").tickSize(2.5))
    .call(styleAxis, TICK_FONT);
const countAxis = svg.append("g").attr("transform", `translate(${L},0)`)
    .call(d3.axisLeft(yCount).tickValues(countTicks).tickFormat("").tickSize(4.5).tickPadding(4));
styleAxis(countAxis, TICK_FONT);
countAxis.selectAll(".tick").each(function (d) {
    const t = d3.select(this).select("text").attr("x", -9).attr("dy", "0.3em");
    t.append("tspan").text("10");
    t.append("tspan").attr("dy", "-0.45em").style("font-size", "13px").text(Math.round(Math.log10(d)));
});
svg.append("g").attr("transform", "translate(0,863)")
    .call(d3.axisBottom(x).tickValues(posTicks).tickFormat(d3.format("d")).tickSize(4).tickPadding(3))
    .call(styleAxis, 14.5);
label("CpG Syn-SNV number", 56, 718, AXIS_FONT, { rotate: true });
label("Position along the coding sequence", 673, 910, AXIS_FONT);
label("(a)", 673, 936, SUB_FONT);
frame(L, 542, R, 863);

legendBox(293.5, 576, 512.5, 639, 1.5);
svg.append("rect").attr("x", 301).attr("y", 585).attr("width", 39).attr("height", 14).attr("fill", RED);
svg.append("rect").attr("x", 301).attr("y", 612.7).attr("width", 39).attr("height", 14).attr("fill", BLUE);
label("Syn-SNV CpG", 356, 599, LEGEND_FONT, { anchor: "start" });
label("Syn-SNV CpG", 356, 627, LEGEND_FONT, { anchor: "start" });
arrow(499.5, 604, 581, RED);
arrow(499.5, 610, 633, BLUE);

// Panel (b)
const xB = d3.scaleLinear().domain([-2.756, -0.599]).range([130.5, 647]);
const yB = d3.scaleLinear().domain([-0.00393, 0.05705]).range([1330, 988.5]);
const redPoints = redLevels.flatMap((lv, i) => redForces[i].map(f => [f, lv]))
    .concat(redTailForce.map((f, i) => [f, redTailDens[i]]));
const bluePoints = blueLevels.flatMap((lv, i) => blueForces[i].map(f => [f, lv]))
    .concat(blueTailForce.map((f, i) => [f, blueTailDens[i]]));
svg.append("g").selectAll("circle").data(redPoints).join("circle")
    .attr("cx", d => xB(d[0])).attr("cy", d => yB(d[1])).attr("r", 2.4).attr("fill", RED);
svg.append("g").selectAll("circle").data(bluePoints).join("circle")
    .attr("cx", d => xB(d[0])).attr("cy", d => yB(d[1])).attr("r", 3.7).attr("fill", BLUE);
svg.append("line").attr("x1", xB(equilibrium)).attr("x2", xB(equilibrium)).attr("y1", 988.5).attr("y2", 1330)
    .attr("stroke", INK).attr("stroke-width", 1.5).attr("stroke-dasharray", DASH);
svg.append("g").attr("transform", "translate(0,1330)")
    .call(d3.axisBottom(xB).tickValues(bForceTicks).tickFormat(d3.format(".1f")).tickSize(4).tickPadding(4))
    .call(styleAxis, 20);
svg.append("g").attr("transform", "translate(130.5,0)")
    .call(d3.axisLeft(yB).tickValues(bDensTicks).tickFormat(d3.format(".2f")).tickSize(4).tickPadding(4))
    .call(styleAxis, TICK_FONT);
label("CpG Syn-SNV local density", 73, 1160, AXIS_FONT, { rotate: true });
label("Local coding CpG force", 389, 1377, AXIS_FONT);
label("(b)", 389, 1403, SUB_FONT);
frame(130.5, 988.5, 647, 1330);

legendBox(141, 998.5, 320.5, 1054, 3);
svg.append("line").attr("x1", 148).attr("x2", 188).attr("y1", 1027).attr("y2", 1027)
    .attr("stroke", INK).attr("stroke-width", 1.5).attr("stroke-dasharray", DASH);
label("Equilibrium", 203, 1021, LEGEND_FONT, { anchor: "start" });
label("force", 203, 1043, LEGEND_FONT, { anchor: "start" });

function rSquared(yBase, color, value) {
    const t = svg.append("text").attr("x", 420).attr("y", yBase).style("font-size", "21.3px").style("fill", color);
    t.append("tspan").style("font-style", "italic").style("fill", color).text("r");
    t.append("tspan").attr("dy", -8).style("font-size", "15.5px").style("fill", color).text("2");
    t.append("tspan").attr("dy", 8).attr("dx", 4).style("fill", color).text("= " + value);
}
arrow(409.5, 1023, 1006, RED);
arrow(409.5, 1036, 1053, BLUE);
rSquared(1023, RED, "0.16");
rSquared(1051, BLUE, "0.86");

// Panel (c)
const yFrac = d3.scaleLinear().domain([0.0001, 0.08]).range([1330, 988]);
const xN = d3.scaleLinear().domain([39, 237]).range([699, 950]);
const xS = d3.scaleLinear().domain([38.6, 237.5]).range([963, 1215]);
clip("clipN", 699, 988, 950, 1330);
clip("clipS", 963, 988, 1215, 1330);

function trend(xs, days, vals, band, color, clipId) {
    const data = days.map((d, i) => [d, vals[i]]);
    const g = svg.append("g").attr("clip-path", `url(#${clipId})`);
    g.append("path").datum(data).attr("fill", color).attr("fill-opacity", 0.28)
        .attr("d", d3.area().x(d => xs(d[0])).y0(d => yFrac(d[1] - band)).y1(d => yFrac(d[1] + band)));
    g.append("path").datum(data).attr("fill", "none").attr("stroke", color).attr("stroke-width", 1.3)
        .attr("d", d3.line().x(d => xs(d[0])).y(d => yFrac(d[1])));
}
trend(xN, nBlueDay, nBlueVal, nBlueBand, BLUE, "clipN");
trend(xN, nRedDay, nRedVal, nRedBand, RED, "clipN");
trend(xS, sRedDay, sRedVal, sRedBand, RED, "clipS");
trend(xS, sBlueDay, sBlueVal, sBlueBand, BLUE, "clipS");

svg.append("g").attr("transform", "translate(0,1330)")
    .call(d3.axisBottom(xN).tickValues(dayTicks).tickSize(4).tickPadding(4)).call(styleAxis, TICK_FONT);
svg.append("g").attr("transform", "translate(0,1330)")
    .call(d3.axisBottom(xS).tickValues(dayTicks).tickSize(4).tickPadding(4)).call(styleAxis, TICK_FONT);
svg.append("g").attr("transform", "translate(1215,0)")
    .call(d3.axisRight(yFrac).tickValues(fracTicks).tickFormat(d3.format(".2f")).tickSize(4).tickPadding(4))
    .call(styleAxis, TICK_FONT);
frame(699, 988, 950, 1330);
frame(963, 988, 1215, 1330);
label("N ORF", 825, 983, AXIS_FONT);
label("S ORF", 1090, 983, AXIS_FONT);
label("Days from 24 Dec 2019", 958, 1380.5, AXIS_FONT);
label("(c)", 958, 1406, 21.5);
label("Fraction of sequences", 1287, 1159, AXIS_FONT, { rotate: true });

legendBox(931.5, 1053, 1149.5, 1159, 4);
svg.append("line").attr("x1", 938).attr("x2", 977.5).attr("y1", 1081.7).attr("y2", 1081.7).attr("stroke", BLUE).attr("stroke-width", 1.3);
svg.append("line").attr("x1", 938).attr("x2", 977.5).attr("y1", 1131.7).attr("y2", 1131.7).attr("stroke", RED).attr("stroke-width", 1.3);
label("at least 1", 993.5, 1076, LEGEND_FONT, { anchor: "start" });
label("Syn-SNV CpG", 993.5, 1098, LEGEND_FONT, { anchor: "start" });
label("at least 1", 993.5, 1126, LEGEND_FONT, { anchor: "start" });
label("Syn-SNV CpG", 993.5, 1148, LEGEND_FONT, { anchor: "start" });
arrow(1133.5, 1081, 1102, BLUE);
arrow(1133.5, 1153, 1132, RED);
</script>
</body>
</html>
